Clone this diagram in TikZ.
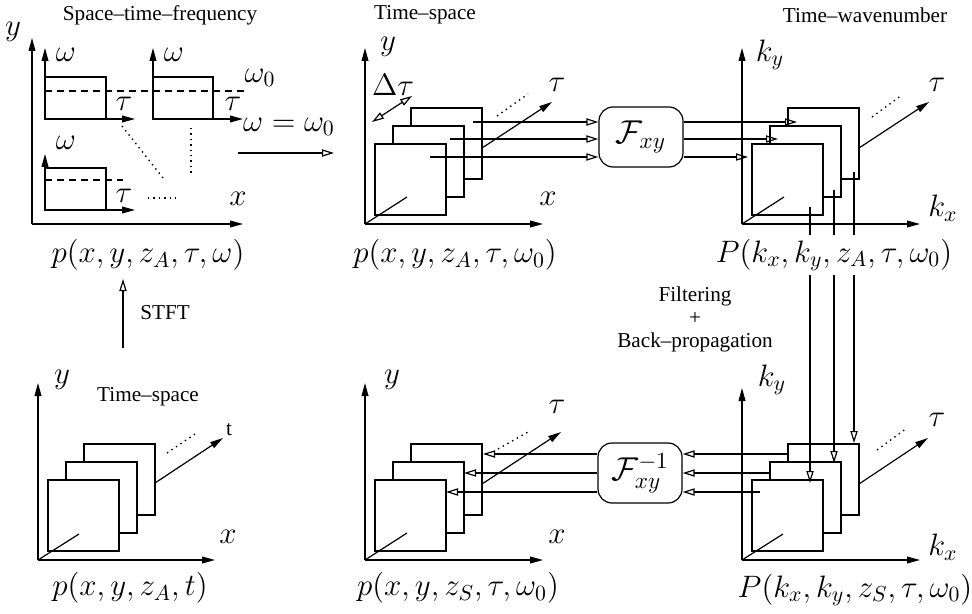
\RequirePackage{fix-cm}
\documentclass[tikz,border=0pt]{standalone}
\usepackage[no-math]{fontspec}
\setmainfont{Liberation Serif}
\usetikzlibrary{arrows.meta}
\begin{document}
\begin{tikzpicture}[
  x=0.5pt, y=-0.5pt,
  line width=0.6pt,
  >={Triangle[open,length=6pt,width=3.6pt]},
  every node/.style={font=\fontsize{10.6}{11.5}\selectfont},
  lbl/.style={font=\fontsize{15.5}{18}\selectfont, inner sep=1pt},
  axis/.style={-{Triangle[length=6.5pt,width=3.4pt]}},
  slice/.style={draw, fill=white, minimum size=35.5pt, inner sep=0pt},
  fbox/.style={draw, rounded corners=7pt, minimum width=42pt, minimum height=30pt, font=\fontsize{16.5}{20}\selectfont},
  dashline/.style={dash pattern=on 3.5pt off 2.5pt},
  dots/.style={dotted, line width=0.7pt}
]
  \useasboundingbox (0,0) rectangle (972,614);

  % space-time-frequency
  \node (stf) at (160,15) {Space--time--frequency};
  \coordinate (o1) at (32,224);
  \draw[axis] (o1) -- (32,38);
  \draw[axis] (o1) -- (243,224);
  \node[lbl] (y1) at (13,32) {$y$};
  \node[lbl] (x1) at (238,199) {$x$};
  \draw[axis] (45,119) -- (45,48);
  \draw[axis] (45,119) -- (135,119);
  \draw (45,119) rectangle (106,77);
  \draw[axis] (153,119) -- (153,48);
  \draw[axis] (153,119) -- (243,119);
  \draw (153,119) rectangle (213,77);
  \draw[dashline] (45,91) -- (247,91);
  \draw[axis] (45,210) -- (45,154);
  \draw[axis] (45,210) -- (135,210);
  \draw (45,210) rectangle (106,168);
  \draw[dashline] (45,180) -- (123,180);
  \node[lbl] (wa) at (66,55) {$\omega$};
  \node[lbl] (wb) at (174,55) {$\omega$};
  \node[lbl] (wc) at (66,143) {$\omega$};
  \node[lbl] (w0) at (260,78) {$\omega_0$};
  \node[lbl] (ta) at (124,104) {$\tau$};
  \node[lbl] (tb) at (233,104) {$\tau$};
  \node[lbl] (tc) at (124,196) {$\tau$};
  \draw[dots] (122,126) -- (163,178);
  \draw[dots] (191,128) -- (191,173);
  \draw[dots] (148,198) -- (178,198);
  \node[lbl] (p1) at (148,255) {$p(x,y,z_A,\tau,\omega)$};

  \coordinate (s1) at (238,153);
  \coordinate (s2) at (334,153);
  \draw[->] (s1) -- (s2);
  \node[lbl] (weq) at (289,127) {$\omega=\omega_0$};

  % axes of the slice panels
  \coordinate (o2) at (365,224);
  \coordinate (o3) at (742,224);
  \coordinate (o4) at (38,560);
  \coordinate (o5) at (365,560);
  \coordinate (o6) at (742,560);
  \draw[axis] (o2) -- (365,48);
  \draw[axis] (o2) -- (543,224);
  \draw[axis] (o3) -- (742,48);
  \draw[axis] (o3) -- (920,224);
  \draw[axis] (o4) -- (38,383);
  \draw[axis] (o4) -- (215,560);
  \draw[axis] (o5) -- (365,383);
  \draw[axis] (o5) -- (543,560);
  \draw[axis] (o6) -- (742,388);
  \draw[axis] (o6) -- (920,560);

  \foreach \n/\o in {a/o2, b/o3, c/o4, d/o5, e/o6}
    \foreach \i in {3,2,1}
      \node[slice] (\n\i) at ([shift={(27.5+18*\i,-26.5-18*\i)}]\o) {};

  % time-space
  \node (ts1) at (425,15) {Time--space};
  \node[lbl] (y2) at (388,47) {$y$};
  \node[lbl] (x2) at (548,199) {$x$};
  \node[lbl] (dt) at (393,85) {$\Delta\tau$};
  \draw[<->] (372,122) -- (412,96);
  \draw (o2) -- (407,197);
  \draw[axis] (482,148) -- (552,102);
  \node[lbl] (t2) at (557,85) {$\tau$};
  \draw[dots] (497,116) -- (528,94);
  \node[lbl] (p2) at (455,255) {$p(x,y,z_A,\tau,\omega_0)$};

  \node[fbox] (Fa) at (641,137) {$\mathcal{F}_{xy}$};
  \draw[->] (473,122) -- (Fa.west |- 0,122);
  \draw[->] (450,139) -- (Fa.west |- 0,139);
  \draw[->] (430,157) -- (Fa.west |- 0,157);

  % time-wavenumber
  \node (tw) at (865,15) {Time--wavenumber};
  \node[lbl] (ky3) at (770,55) {$k_y$};
  \node[lbl] (kx3) at (943,208) {$k_x$};
  \draw (o3) -- (784,197);
  \draw[axis] (859,148) -- (929,102);
  \node[lbl] (t3) at (937,85) {$\tau$};
  \draw[dots] (872,117) -- (902,95);
  \draw[->] (Fa.east |- 0,122) -- (797,122);
  \draw[->] (Fa.east |- 0,139) -- (778,139);
  \draw[->] (Fa.east |- 0,157) -- (748,157);

  \draw[->] (810,207) -- (810,483);
  \draw[->] (834,190) -- (834,463);
  \draw[->] (854,172) -- (854,443);
  \node[lbl, fill=white, inner sep=2pt] (P3) at (834,255) {$P(k_x,k_y,z_A,\tau,\omega_0)$};
  \node[align=center] (filt) at (695,319) {Filtering\\+\\Back--propagation};

  % bottom left
  \node[lbl] (y4) at (62,380) {$y$};
  \node[lbl] (x4) at (228,537) {$x$};
  \node (ts4) at (148,397) {Time--space};
  \draw (o4) -- (79,534);
  \draw[axis] (155,483) -- (223,438);
  \node (t4) at (229,430) {t};
  \draw[dots] (167,453) -- (198,432);
  \node[lbl] (p4) at (130,588) {$p(x,y,z_A,t)$};
  \draw[->] (123,348) -- (123,279);
  \node[anchor=west] (stft) at (133,313) {STFT};

  % bottom middle
  \node[lbl] (y5) at (392,380) {$y$};
  \node[lbl] (x5) at (557,537) {$x$};
  \draw (o5) -- (407,533);
  \draw[axis] (482,484) -- (561,432);
  \node[lbl] (t5) at (557,407) {$\tau$};
  \draw[dots] (498,449) -- (528,432);
  \node[lbl] (p5) at (458,588) {$p(x,y,z_S,\tau,\omega_0)$};

  \node[fbox] (Fb) at (640,473) {$\mathcal{F}_{xy}^{-1}$};
  \draw[->] (Fb.west |- 0,454) -- (483,454);
  \draw[->] (Fb.west |- 0,473) -- (464,473);
  \draw[->] (Fb.west |- 0,492) -- (446,492);

  % bottom right
  \node[lbl] (ky6) at (772,380) {$k_y$};
  \node[lbl] (kx6) at (943,547) {$k_x$};
  \draw (o6) -- (783,534);
  \draw[axis] (859,484) -- (928,438);
  \node[lbl] (t6) at (937,420) {$\tau$};
  \draw[dots] (877,450) -- (907,428);
  \node[lbl] (P6) at (855,590) {$P(k_x,k_y,z_S,\tau,\omega_0)$};
  \draw[->] (787,454) -- (Fb.east |- 0,454);
  \draw[->] (770,473) -- (Fb.east |- 0,473);
  \draw[->] (760,492) -- (Fb.east |- 0,492);
\end{tikzpicture}
\end{document}
